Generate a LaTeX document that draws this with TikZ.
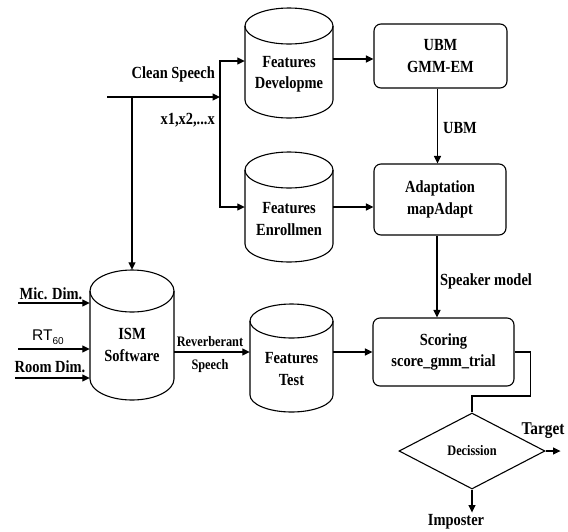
\documentclass[tikz,border=0pt]{standalone}
\usepackage{fontspec}
\setmainfont{Liberation Serif}[FakeStretch=0.85]
\newfontfamily\arialfont{Liberation Sans}
\usetikzlibrary{arrows.meta,shapes.geometric,calc}

\newcommand\mycyl[7]{% #1 name, #2 cx, #3 top, #4 bottom, #5 rx, #6 ry, #7 height
  \node[inner sep=0pt, minimum width={2*#5*1pt}, minimum height={#7*1pt}] (#1) at (#2,{(#3+#4)/2}) {};
  \draw[line] (#2-#5,#3+#6) -- (#2-#5,#4-#6)
     arc[start angle=180,end angle=360,x radius=#5pt,y radius=#6pt] -- (#2+#5,#3+#6);
  \draw[line] (#2,#3+#6) ellipse[x radius=#5pt,y radius=#6pt];
}

\begin{document}
\begin{tikzpicture}[x=1pt,y=-1pt,
  line/.style={line width=1.1pt},
  arr/.style={line, -{Triangle[length=7.5pt,width=7pt]}},
  lbl/.style={font=\fontsize{17}{21.5}\selectfont\bfseries, inner sep=0pt, align=center},
  smalllbl/.style={font=\fontsize{14.5}{16}\selectfont\bfseries, inner sep=0pt, align=center},
  box/.style={draw, line, rounded corners=7pt, align=center, inner sep=0pt,
     font=\fontsize{17}{21.5}\selectfont\bfseries},
]
\useasboundingbox (0,0) rectangle (568,531);

% cylinders
\mycyl{fdev}{289}{8}{118}{44}{18}{110}
\mycyl{fenr}{289}{152}{262}{44}{18}{110}
\mycyl{ism}{132}{270}{400}{42}{21}{130}
\mycyl{ftest}{291.5}{304}{412}{41.5}{17}{108}

\node[lbl] (fdevt) at (289,74) {Features\\Developme};
\node[lbl] (fenrt) at (289,219) {Features\\Enrollmen};
\node[lbl] (ismt) at (132,345) {ISM\\Software};
\node[lbl] (ftestt) at (291.5,369) {Features\\Test};

% boxes
\node[box, minimum width=133pt, minimum height=64pt] (ubm) at (440.5,56) {UBM\\GMM-EM};
\node[box, minimum width=132pt, minimum height=71pt] (adapt) at (440,199.5) {Adaptation\\mapAdapt};
\node[box, minimum width=141pt, minimum height=68pt] (score) at (443.5,352) {Scoring\\score\_gmm\_trial};
\node[draw, line, diamond, aspect=1.9, minimum width=146pt, minimum height=76pt, inner sep=0pt,
  smalllbl] (dec) at (472,451) {Decission};

% free ends
\coordinate (cs) at (107,97);
\coordinate (split) at (220,97);
\coordinate (tap) at (132,97);
\coordinate (mic) at (18,303);
\coordinate (rt) at (18,349);
\coordinate (room) at (15,378);

% clean speech
\draw[arr] (cs) -- (split);
\draw[arr] (split) |- ([yshift=2pt]fdev.west);
\draw[arr] (split) |- (fenr.west);
\draw[arr] (tap) -- (ism.north);
\node[lbl, anchor=east] (cslbl) at (215,74) {Clean Speech};
\node[lbl, anchor=east] (xlbl) at (215,120) {x1,x2,...x};

% inputs to ISM
\draw[arr] (mic) -- (mic -| ism.west);
\draw[arr] (rt) -- (rt -| ism.west);
\draw[arr] (room) -- (room -| ism.west);
\node[lbl] (miclbl) at (51,294) {Mic. Dim.};
\node[inner sep=0pt, font=\arialfont\fontsize{15.5}{17}\selectfont] (rtlbl) at (48,337)
  {RT\raisebox{-3.5pt}{\fontsize{10}{10}\selectfont 60}};
\node[lbl] (roomlbl) at (50,367) {Room Dim.};

% reverberant speech
\draw[arr] (ism.east |- score.west) -- (ftest.west |- score.west);
\node[smalllbl] (revlbl) at (210,342) {Reverberant};
\node[smalllbl] (splbl) at (210,366) {Speech};

% to boxes
\draw[arr] ([yshift=4pt]fdev.east) -- ([yshift=4pt]fdev.east -| ubm.west);
\draw[arr] (fenr.east) -- (fenr.east -| adapt.west);
\draw[arr] (ftest.east |- score.west) -- (score.west);
\draw[arr] ([xshift=-3pt]ubm.south) -- ([xshift=-3pt]ubm.south |- adapt.north);
\node[lbl] (ubmlbl) at (460,128) {UBM};
\draw[arr] ([xshift=-3pt]adapt.south) -- ([xshift=-3pt]adapt.south |- score.north);
\node[lbl] (spklbl) at (486,281) {Speaker model};

% decision
\draw[line] (score.east) -- ++(16,0) -- ++(0,44) -| (dec.north);
\draw[arr] (dec.east) -- ++(15,0);
\node[lbl, font=\fontsize{18}{20}\selectfont\bfseries] (tgt) at (543,431) {Target};
\draw[arr] (dec.south) -- ++(0,23);
\node[lbl] (imp) at (456,522) {Imposter};
\end{tikzpicture}
\end{document}
